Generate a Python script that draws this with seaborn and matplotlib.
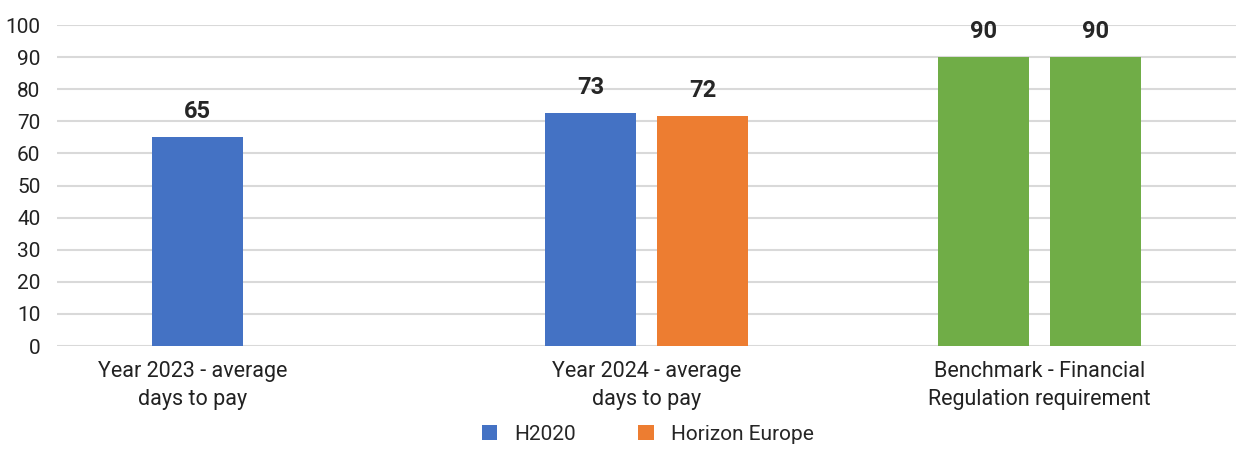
import pandas as pd
import matplotlib
matplotlib.use("Agg")
import matplotlib.pyplot as plt
import matplotlib.transforms as mtransforms
import seaborn as sns

# data
categories = ["Year 2023 - average\ndays to pay",
              "Year 2024 - average\ndays to pay",
              "Benchmark - Financial\nRegulation requirement"]
series = ["H2020", "Horizon Europe"]
h2020 = [65, 72.6, 90]
horizon_europe = [None, 71.7, 90]

colors = {"H2020": "#4472C4", "Horizon Europe": "#ED7D31"}
benchmark_color = "#70AD47"

rows = []
for cat, a, b in zip(categories, h2020, horizon_europe):
    if a is not None:
        rows.append({"category": cat, "series": "H2020", "days": a})
    if b is not None:
        rows.append({"category": cat, "series": "Horizon Europe", "days": b})
df = pd.DataFrame(rows)

sns.set_style("white")
plt.rcParams['font.family'] = ['Roboto', 'DejaVu Sans']

fig = plt.figure(figsize=(12.36, 4.5), dpi=100)
ax = fig.add_axes([0.0461, 0.2311, 0.9539, 0.7133])

sns.barplot(data=df, x="category", y="days", hue="series", order=categories,
            hue_order=series, palette=colors, width=0.57, gap=0.19,
            errorbar=None, saturation=1, linewidth=0, ax=ax, legend=True)

# benchmark bars are green
for cont in ax.containers:
    for bar in cont:
        if bar.get_x() + bar.get_width() / 2 > 1.5:
            bar.set_facecolor(benchmark_color)
    ax.bar_label(cont, fmt="%.0f", padding=10, fontsize=17, fontweight="bold")

ax.set_ylim(0, 100)
ax.set_xlim(-0.5, 2.5)
ax.set_yticks(range(0, 101, 10))
ax.yaxis.grid(True, color="#d9d9d9", linewidth=1.5)
ax.set_axisbelow(True)
sns.despine(ax=ax, left=True, bottom=True, top=True, right=True)
ax.tick_params(axis="y", length=0, pad=12, labelsize=15, labelcolor="#222222")
ax.tick_params(axis="x", length=0, pad=11, labelsize=15.5, labelcolor="#222222")
ax.set_xlabel("")
ax.set_ylabel("")
for t in ax.get_xticklabels():
    t.set_linespacing(1.4)

# first category label sits further left in the original
lbl = ax.get_xticklabels()[0]
lbl.set_transform(lbl.get_transform() + mtransforms.ScaledTranslation(-0.61, 0, fig.dpi_scale_trans))

handles, labels = ax.get_legend_handles_labels()
ax.legend_.remove()
fig.legend(handles, labels, loc="lower center", bbox_to_anchor=(0.524, -0.028),
           ncol=2, frameon=False, fontsize=15, handlelength=0.75, handleheight=0.75,
           handletextpad=0.8, columnspacing=3.0)

fig.savefig("out.png", dpi=100)
